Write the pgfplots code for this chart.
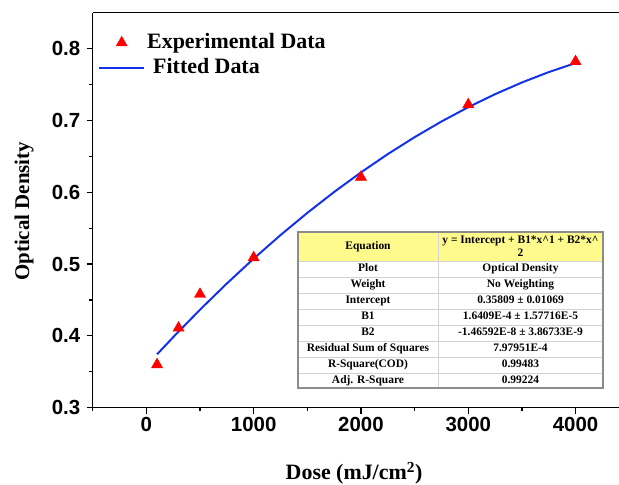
\documentclass[border=0pt]{standalone}
\usepackage{pgfplots}
\pgfplotsset{compat=1.18}
\usepackage{fontspec}
\setmainfont{Liberation Serif}
\newfontfamily\arialf{Liberation Sans}
\definecolor{fitblue}{RGB}{20,50,235}
\definecolor{hdryellow}{RGB}{255,250,140}
\definecolor{tblborder}{RGB}{140,140,140}
\definecolor{tblgrid}{RGB}{210,210,210}
\pgfplotsset{
  markleg/.style={legend image code/.code={\draw[##1] plot coordinates {(22.5bp,0bp)};}},
  lineleg/.style={legend image code/.code={\draw[##1] (0bp,0bp) -- (45bp,0bp);}},
}
\begin{document}
\begin{tikzpicture}
\begin{axis}[
  name=ax,
  scale only axis, width=526.3bp, height=395bp,
  xmin=-500, xmax=4405, ymin=0.3, ymax=0.85,
  axis x line*=bottom, axis y line*=left,
  axis line style={line width=1.4bp, black},
  xtick={0,1000,2000,3000,4000},
  minor xtick={-500,500,1500,2500,3500},
  ytick={0.3,0.4,0.5,0.6,0.7,0.8},
  minor ytick={0.35,0.45,0.55,0.65,0.75},
  tick align=outside,
  major tick length=6bp, minor tick length=3.5bp,
  every tick/.style={line width=1.2bp, black},
  scaled x ticks=false,
  ticklabel style={font=\arialf\bfseries\fontsize{20.5}{20.5}\selectfont},
  /pgf/number format/assume math mode=true,
  xticklabel style={/pgf/number format/.cd, fixed, precision=0, 1000 sep={}},
  yticklabel style={xshift=-3bp, /pgf/number format/.cd, fixed, fixed zerofill, precision=1},
  xlabel={Dose (mJ/cm\textsuperscript{2})},
  xlabel style={at={(rel axis cs:0.4965,-0.183)}, anchor=base, font=\bfseries\fontsize{22}{22}\selectfont},
  ylabel={Optical Density},
  ylabel style={at={(rel axis cs:-0.1305,0.497)}, anchor=center, font=\bfseries\fontsize{21}{21}\selectfont},
  legend cell align=left,
  legend style={draw=none, fill=none, inner sep=0bp, at={(rel axis cs:0.0101,0.951)}, anchor=north west,
    font=\bfseries\fontsize{22}{22}\selectfont, row sep=4.6bp, column sep=2bp,
    nodes={inner sep=0bp, text height=16bp, text depth=5bp}},
]
\addplot[only marks, mark=triangle*, mark size=6.5pt, color=red, markleg]
  coordinates {(100,0.360) (300,0.411) (500,0.458) (1000,0.509) (2000,0.621) (3000,0.722) (4000,0.782)};
\addlegendentry{Experimental Data}
\addplot[fitblue, line width=2bp, mark=none, lineleg]
  coordinates {
  (100,0.374352) (250,0.398196) (500,0.436470) (750,0.472912) (1000,0.507521)
  (1250,0.540298) (1500,0.571242) (1750,0.600354) (2000,0.627633) (2250,0.653080)
  (2500,0.676695) (2750,0.698477) (3000,0.718427) (3250,0.736545) (3500,0.752830)
  (3750,0.767283) (4000,0.779903)};
\addlegendentry{\hspace{6bp}Fitted Data}
\draw[line width=1.4bp, black] (rel axis cs:0,1) -- (rel axis cs:1,1);
\end{axis}
\begin{scope}[shift={(ax.south west)}, xshift=-92.7bp, yshift=407.7bp, x=1bp, y=-1bp]
  \fill[hdryellow] (298,232) rectangle (603,261);
  \fill[white] (298,261) rectangle (603,388);
  \foreach \yy in {261,277,293,309,325,341,357,373} {
    \draw[tblgrid, line width=0.8bp] (298,\yy) -- (603,\yy);
  }
  \draw[tblgrid, line width=0.8bp] (438,232) -- (438,388);
  \draw[tblborder, line width=1.2bp] (298,232) rectangle (603,388);
  \begin{scope}[every node/.style={font=\bfseries\fontsize{11.5}{13}\selectfont, text height=8bp, text depth=2.5bp, inner sep=0pt, anchor=center}]
    \node at (368,246.5) {Equation};
    \node[align=center, text height=, text depth=] at (520.5,246.5) {y = Intercept + B1*x\textasciicircum1 + B2*x\textasciicircum\\2};
    \node at (368,269) {Plot};
    \node at (520.5,269) {Optical Density};
    \node at (368,285) {Weight};
    \node at (520.5,285) {No Weighting};
    \node at (368,301) {Intercept};
    \node at (520.5,301) {0.35809 ± 0.01069};
    \node at (368,317) {B1};
    \node at (520.5,317) {1.6409E-4 ± 1.57716E-5};
    \node at (368,333) {B2};
    \node at (520.5,333) {-1.46592E-8 ± 3.86733E-9};
    \node at (368,349) {Residual Sum of Squares};
    \node at (520.5,349) {7.97951E-4};
    \node at (368,365) {R-Square(COD)};
    \node at (520.5,365) {0.99483};
    \node at (368,380.5) {Adj. R-Square};
    \node at (520.5,380.5) {0.99224};
  \end{scope}
  \pgfresetboundingbox
  \useasboundingbox (0,0) rectangle (619,485);
\end{scope}
\end{tikzpicture}
\end{document}
